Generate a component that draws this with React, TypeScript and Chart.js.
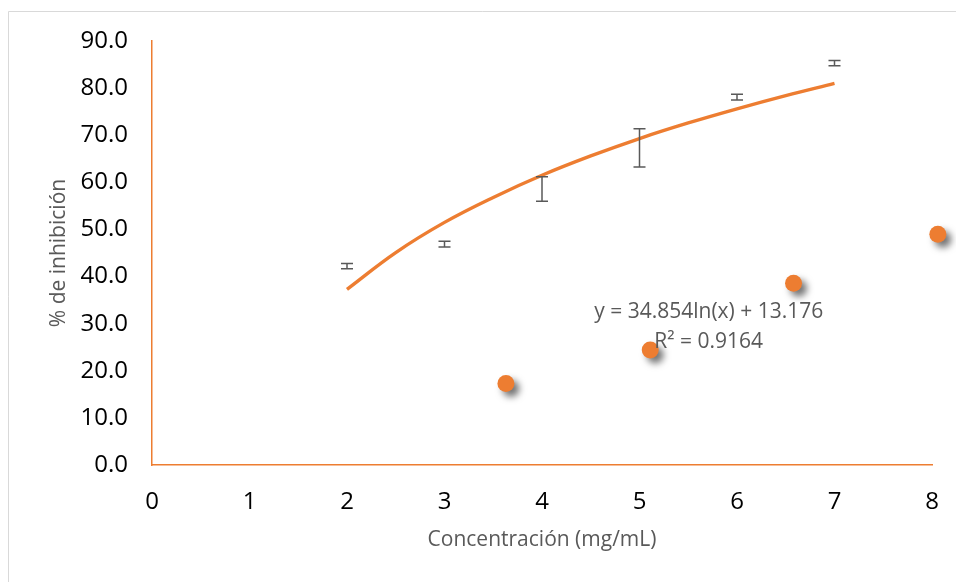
import React, { useEffect, useRef } from "react";
import { Chart, registerables } from "chart.js";

Chart.register(...registerables);

// Measured points (orange markers)
const pointX = [3.63, 5.11, 6.58, 8.06];
const pointY = [17.3, 24.4, 38.6, 49.0];

// Error bars (means hidden, only bars shown)
const errX = [2, 3, 4, 5, 6, 7];
const errMean = [42.2, 46.9, 58.6, 67.3, 78.1, 85.3];
const errDelta = [0.55, 0.6, 2.6, 4.05, 0.6, 0.55];

// Logarithmic trendline
const trendX = [2, 2.5, 3, 3.5, 4, 4.5, 5, 5.5, 6, 6.5, 7];
const trendY = [37.3, 45.1, 51.5, 56.8, 61.5, 65.6, 69.3, 72.6, 75.6, 78.4, 81.0];

const xTicks = [0, 1, 2, 3, 4, 5, 6, 7, 8];
const yTicks = [0, 10, 20, 30, 40, 50, 60, 70, 80, 90];

const equationLines = ["y = 34.854ln(x) + 13.176", "R² = 0.9164"];
const equationAt = { x: 5.71, y1: 32.5, y2: 26.2 };

const ORANGE = "#ED7D31";
const GRAY = "#595959";
const FONT = "'Open Sans', sans-serif";

export default function App() {
  const ref = useRef<HTMLCanvasElement | null>(null);

  useEffect(() => {
    if (!ref.current) return;

    const frame = {
      id: "frame",
      beforeDraw(chart: any) {
        const ctx = chart.ctx;
        ctx.save();
        ctx.fillStyle = "#ffffff";
        ctx.fillRect(0, 0, chart.width, chart.height);
        ctx.strokeStyle = "#d9d9d9";
        ctx.lineWidth = 1;
        ctx.beginPath();
        ctx.moveTo(8.5, chart.height);
        ctx.lineTo(8.5, 11.5);
        ctx.lineTo(chart.width, 11.5);
        ctx.stroke();
        ctx.restore();
      },
    };

    const shadow = {
      id: "shadow",
      beforeDatasetDraw(chart: any, args: any) {
        if (args.index === 1) {
          const ctx = chart.ctx;
          ctx.save();
          ctx.shadowColor = "rgba(0,0,0,0.55)";
          ctx.shadowBlur = 7;
          ctx.shadowOffsetX = 5;
          ctx.shadowOffsetY = 5;
        }
      },
      afterDatasetDraw(chart: any, args: any) {
        if (args.index === 1) chart.ctx.restore();
      },
    };

    const errorBars = {
      id: "errorBars",
      afterDatasetsDraw(chart: any) {
        const ctx = chart.ctx;
        const xs = chart.scales.x;
        const ys = chart.scales.y;
        ctx.save();
        ctx.strokeStyle = GRAY;
        ctx.lineWidth = 1.5;
        errX.forEach((xv, i) => {
          const px = xs.getPixelForValue(xv);
          const top = ys.getPixelForValue(errMean[i] + errDelta[i]);
          const bot = ys.getPixelForValue(errMean[i] - errDelta[i]);
          ctx.beginPath();
          ctx.moveTo(px, top);
          ctx.lineTo(px, bot);
          ctx.moveTo(px - 6, top);
          ctx.lineTo(px + 6, top);
          ctx.moveTo(px - 6, bot);
          ctx.lineTo(px + 6, bot);
          ctx.stroke();
        });
        ctx.restore();
      },
    };

    const equation = {
      id: "equation",
      afterDraw(chart: any) {
        const ctx = chart.ctx;
        const xs = chart.scales.x;
        const ys = chart.scales.y;
        ctx.save();
        ctx.fillStyle = GRAY;
        ctx.font = `21px ${FONT}`;
        ctx.textAlign = "center";
        ctx.textBaseline = "middle";
        const px = xs.getPixelForValue(equationAt.x);
        ctx.fillText(equationLines[0], px, ys.getPixelForValue(equationAt.y1));
        ctx.fillText(equationLines[1], px, ys.getPixelForValue(equationAt.y2));
        ctx.restore();
      },
    };

    const chart = new Chart(ref.current, {
      type: "scatter",
      data: {
        datasets: [
          {
            label: "Tendencia",
            data: trendX.map((x, i) => ({ x, y: trendY[i] })),
            showLine: true,
            borderColor: ORANGE,
            borderWidth: 3.4,
            pointRadius: 0,
            tension: 0.4,
            clip: false,
          } as any,
          {
            label: "Muestras",
            data: pointX.map((x, i) => ({ x, y: pointY[i] })),
            backgroundColor: ORANGE,
            borderWidth: 0,
            pointRadius: 8.5,
            clip: false,
          } as any,
        ],
      },
      options: {
        responsive: false,
        animation: false,
        layout: { padding: { top: 41, right: 24, bottom: 0, left: 0 } },
        plugins: {
          legend: { display: false },
          tooltip: { enabled: false },
        },
        scales: {
          x: {
            type: "linear",
            min: 0,
            max: 8,
            afterBuildTicks(scale: any) {
              scale.ticks = xTicks.map((v) => ({ value: v }));
            },
            afterFit(scale: any) {
              scale.height = 117;
              scale.paddingLeft = 0;
              scale.paddingRight = 0;
            },
            grid: { display: false, drawTicks: false },
            border: { display: true, color: ORANGE, width: 1.5 },
            ticks: {
              padding: 23,
              color: "#000000",
              font: { family: FONT, size: 24 },
              callback: (v: any) => String(v),
            },
            title: {
              display: true,
              text: "Concentración (mg/mL)",
              color: GRAY,
              font: { family: FONT, size: 21 },
              padding: { top: 0, bottom: 29 },
            },
          },
          y: {
            type: "linear",
            min: 0,
            max: 90,
            afterBuildTicks(scale: any) {
              scale.ticks = yTicks.map((v) => ({ value: v }));
            },
            afterFit(scale: any) {
              scale.width = 152;
            },
            grid: { display: false, drawTicks: false },
            border: { display: true, color: ORANGE, width: 1.5 },
            ticks: {
              padding: 24,
              color: "#000000",
              font: { family: FONT, size: 24 },
              callback: (v: any) => Number(v).toFixed(1),
            },
            title: {
              display: true,
              text: "% de inhibición",
              color: GRAY,
              font: { family: FONT, size: 21 },
              padding: { top: 46, bottom: 0 },
            },
          },
        },
      },
      plugins: [frame, shadow, errorBars, equation],
    });

    return () => chart.destroy();
  }, []);

  return (
    <canvas
      ref={ref}
      width={956}
      height={582}
      style={{ position: "fixed", left: 0, top: 0, display: "block" }}
    />
  );
}
